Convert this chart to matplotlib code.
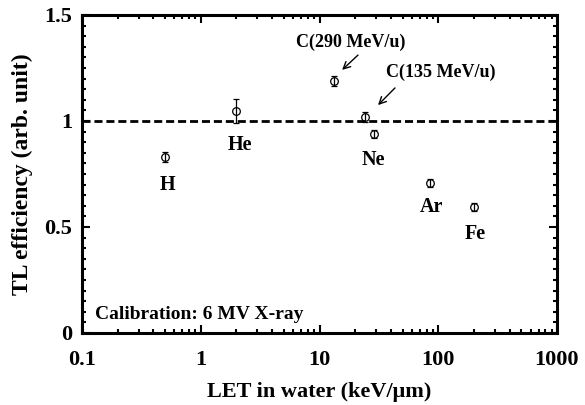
import matplotlib
matplotlib.use("Agg")
import matplotlib.pyplot as plt
from matplotlib.ticker import LogLocator, NullFormatter, MultipleLocator

plt.rcParams['font.family'] = ['Liberation Serif', 'DejaVu Serif']
plt.rcParams['font.weight'] = 'bold'

ions = ["H", "He", "C(290 MeV/u)", "C(135 MeV/u)", "Ne", "Ar", "Fe"]
let = [0.50, 1.98, 13.2, 24.2, 28.8, 85.0, 200.0]
eff = [0.830, 1.047, 1.189, 1.019, 0.939, 0.708, 0.594]
err = [0.022, 0.057, 0.022, 0.022, 0.02, 0.018, 0.018]

xticks = [0.1, 1, 10, 100, 1000]
xticklabels = ["0.1", "1", "10", "100", "1000"]
yticks = [0, 0.5, 1, 1.5]
yticklabels = ["0", "0.5", "1", "1.5"]

fig = plt.figure(figsize=(5.85, 4.05), dpi=100)
ax = fig.add_axes([82/585, 1-333/405, (557-82)/585, (333-15)/405])

ax.errorbar(let, eff, yerr=err, fmt='o', mfc='none', mec='black', color='black',
            ms=5.5, mew=0.9, elinewidth=0.9, capsize=2.0, capthick=0.9, zorder=3)
ax.axhline(1.0, color='black', ls=(0, (2.9, 1.4)), lw=2.0, zorder=1)

ax.set_xscale('log')
ax.set_xlim(0.1, 1000)
ax.set_ylim(0, 1.5)
ax.set_xticks(xticks)
ax.set_xticklabels(xticklabels)
ax.xaxis.set_minor_locator(LogLocator(base=10, subs=range(2, 10)))
ax.xaxis.set_minor_formatter(NullFormatter())
ax.set_yticks(yticks)
ax.set_yticklabels(yticklabels)
ax.yaxis.set_minor_locator(MultipleLocator(0.05))

ax.tick_params(which='both', direction='in', top=True, right=True, width=1.5)
ax.tick_params(which='major', length=6, labelsize=16)
ax.tick_params(axis='x', which='major', pad=12)
ax.tick_params(axis='y', which='major', pad=7)
ax.tick_params(which='minor', length=3)
for s in ax.spines.values():
    s.set_linewidth(2.2)

ax.set_xlabel("LET in water (keV/\u03bcm)", fontsize=16, fontweight='bold', labelpad=9)
ax.set_ylabel("TL efficiency (arb. unit)", fontsize=17, fontweight='bold', labelpad=8)

fs = 14.5
ax.text(0.52, 0.698, "H", ha='center', va='center', fontsize=fs, fontweight='bold')
ax.text(2.14, 0.887, "He", ha='center', va='center', fontsize=fs, fontweight='bold')
ax.text(28.2, 0.816, "Ne", ha='center', va='center', fontsize=fs, fontweight='bold')
ax.text(87.0, 0.594, "Ar", ha='center', va='center', fontsize=fs, fontweight='bold')
ax.text(204.0, 0.467, "Fe", ha='center', va='center', fontsize=fs, fontweight='bold')

fc = 13
ax.text(18.4, 1.373, "C(290 MeV/u)", ha='center', va='center', fontsize=fc, fontweight='bold')
ax.text(105.0, 1.231, "C(135 MeV/u)", ha='center', va='center', fontsize=fc, fontweight='bold')
ax.annotate("", xy=(15.5, 1.241), xytext=(21.1, 1.311),
            arrowprops=dict(arrowstyle='->,head_length=0.5,head_width=0.25', color='black',
                            lw=1.0, shrinkA=0, shrinkB=0))
ax.annotate("", xy=(31.1, 1.075), xytext=(43.2, 1.156),
            arrowprops=dict(arrowstyle='->,head_length=0.5,head_width=0.25', color='black',
                            lw=1.0, shrinkA=0, shrinkB=0))

ax.text(0.1287, 0.066, "Calibration: 6 MV X-ray", ha='left', va='baseline',
        fontsize=14, fontweight='bold')

fig.savefig("out.png", dpi=100)
